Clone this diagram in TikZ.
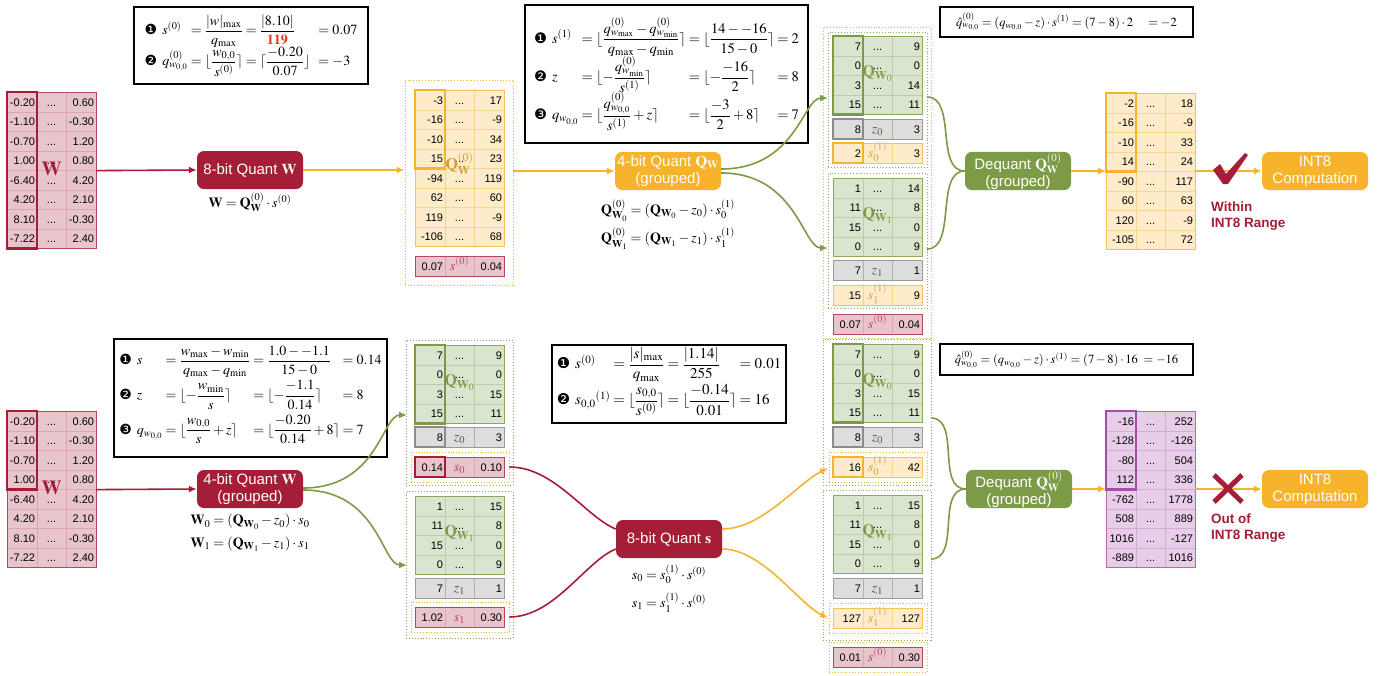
\documentclass[tikz,border=0pt]{standalone}
\usepackage{amsmath}
\usepackage{mathptmx}
\usepackage[no-math]{fontspec}
\setmainfont{Liberation Sans}
\newfontfamily\dingfont{DejaVu Sans}
\usepackage{tikz}
\usetikzlibrary{arrows.meta,positioning}
\definecolor{qred}{HTML}{A51D36}
\definecolor{qorange}{HTML}{F7B32B}
\definecolor{qgreen}{HTML}{7D9A47}
\definecolor{qpurple}{HTML}{A44DAA}
\definecolor{hot}{HTML}{E8301C}
\definecolor{pkfill}{HTML}{E8C5CD}
\definecolor{pkgrid}{HTML}{D9A7B3}
\definecolor{pkline}{HTML}{B4485F}
\definecolor{orfill}{HTML}{FDEBC9}
\definecolor{orgrid}{HTML}{F8D58E}
\definecolor{orline}{HTML}{F5C25A}
\definecolor{grfill}{HTML}{DAE5CF}
\definecolor{grgrid}{HTML}{BACDA6}
\definecolor{grline}{HTML}{8CA85F}
\definecolor{gyfill}{HTML}{DDDDDD}
\definecolor{gygrid}{HTML}{B0B0B0}
\definecolor{gyline}{HTML}{999999}
\definecolor{gyhl}{HTML}{8C8C8C}
\definecolor{pufill}{HTML}{E8CDE8}
\definecolor{pugrid}{HTML}{D6AAD6}
\definecolor{puline}{HTML}{B06AB6}
\definecolor{slab}{HTML}{C43B5C}
\definecolor{olab}{HTML}{D6A23A}
\definecolor{zlab}{HTML}{555555}
\definecolor{qlab}{HTML}{CF9C33}
\tikzset{every picture/.append style={x=1pt,y=-1pt}}
\tikzset{cell/.style={anchor=north west,minimum width=29.5pt,minimum height=19.5pt,inner sep=0pt,text width=26pt,text height=8pt,text depth=0pt,align=right,font=\fontsize{11}{11}\selectfont,line width=0.6pt}}
\tikzset{pkcell/.style={fill=pkfill,draw=pkgrid},pkedge/.style={draw=pkline,line width=0.8pt}}
\tikzset{orcell/.style={fill=orfill,draw=orgrid},oredge/.style={draw=orline,line width=0.8pt}}
\tikzset{grcell/.style={fill=grfill,draw=grgrid},gredge/.style={draw=grline,line width=0.8pt}}
\tikzset{gycell/.style={fill=gyfill,draw=gygrid},gyedge/.style={draw=gyline,line width=0.8pt}}
\tikzset{pucell/.style={fill=pufill,draw=pugrid},puedge/.style={draw=puline,line width=0.8pt}}
\tikzset{hl/.style={line width=2.6pt}}
\tikzset{obox/.style={draw=qorange,dotted,line width=0.9pt,inner sep=0pt}}
\tikzset{gbox/.style={draw=grline,dotted,line width=0.9pt,inner sep=0pt}}
\tikzset{proc/.style={rounded corners=7pt,minimum width=106pt,minimum height=38pt,text=white,align=center,font=\fontsize{15}{17}\selectfont,inner sep=1pt}}
\tikzset{redproc/.style={proc,fill=qred},orproc/.style={proc,fill=qorange},grproc/.style={proc,fill=qgreen}}
\tikzset{fbox/.style={draw,line width=1.4pt,inner sep=2pt,font=\fontsize{14}{16}\selectfont}}
\tikzset{lbl/.style={font=\fontsize{14}{16}\selectfont,inner sep=2pt}}
\tikzset{biglab/.style={font=\fontsize{20}{20}\selectfont,inner sep=0pt}}
\tikzset{glabel/.style={font=\fontsize{16}{16}\selectfont,inner sep=0pt,text=qgreen}}
\tikzset{rangetxt/.style={font=\fontsize{13.5}{16}\selectfont\bfseries,text=qred,align=left,inner sep=0pt}}
\tikzset{arr/.style={line width=1.6pt,-{Latex[length=8pt,width=7pt]}}}
\tikzset{rarr/.style={arr,qred},oarr/.style={arr,qorange},garr/.style={arr,qgreen}}
\tikzset{rlink/.style={line width=1.6pt,qred},glink/.style={line width=1.6pt,qgreen}}
\newcommand{\one}{{\dingfont\char"2776}}
\newcommand{\two}{{\dingfont\char"2777}}
\newcommand{\three}{{\dingfont\char"2778}}
\newcommand{\rowgap}{\rule[-16pt]{0pt}{34pt}}
\newcommand{\cellmath}[2]{\fontsize{14}{14}\selectfont\color{#1}$#2$}
% name, x, y, colour key, rows, values
\newcommand{\gridmat}[6]{%
  \foreach \vl/\vr [count=\i] in {#6}{%
    \node (#1-\i-1) at ({#2},{#3+(\i-1)*19.5})[cell,#4cell]{\vl};
    \node (#1-\i-2) at ({#2+29.5},{#3+(\i-1)*19.5})[cell,#4cell,align=center]{...};
    \node (#1-\i-3) at ({#2+59},{#3+(\i-1)*19.5})[cell,#4cell]{\vr};
  }
  \draw[#4edge] (#1-1-1.north west) rectangle (#1-#5-3.south east);
}
% name, x, y, colour key, left, middle, right
\newcommand{\vrow}[7]{%
  \node (#1-1) at (#2,#3)[cell,#4cell]{#5};
  \node (#1-2) at ({#2+29.5},#3)[cell,#4cell,align=center]{#6};
  \node (#1-3) at ({#2+59},#3)[cell,#4cell]{#7};
  \draw[#4edge] (#1-1.north west) rectangle (#1-3.south east);
}

\begin{document}
\begin{tikzpicture}
\useasboundingbox (0,0) rectangle (1387,675);

% dotted groups
\node (gq) at (459,182.5)[obox,minimum width=108pt,minimum height=205pt]{};
\node (go) at (877,182.5)[obox,minimum width=108pt,minimum height=311pt]{};
\node (ga) at (877.5,99.5)[gbox,minimum width=99pt,minimum height=135pt]{};
\node (gb) at (877.5,240.5)[gbox,minimum width=99pt,minimum height=135pt]{};
\node (gc) at (459.5,412.5)[gbox,minimum width=107pt,minimum height=145pt]{};
\node (gd) at (459.5,564.5)[gbox,minimum width=107pt,minimum height=147pt]{};
\node (oc) at (460,467)[obox,minimum width=98pt,minimum height=30pt]{};
\node (od) at (460,617)[obox,minimum width=98pt,minimum height=30pt]{};
\node (ge) at (877,412)[gbox,minimum width=108pt,minimum height=146pt]{};
\node (gf) at (877,565)[gbox,minimum width=108pt,minimum height=150pt]{};
\node (oe) at (878,467)[obox,minimum width=98pt,minimum height=30pt]{};
\node (of) at (878,618)[obox,minimum width=98pt,minimum height=30pt]{};
\node (og) at (878,657)[obox,minimum width=98pt,minimum height=30pt]{};

% top row
\gridmat{wt}{7}{92}{pk}{8}{-0.20/0.60,-1.10/-0.30,-0.70/1.20,1.00/0.80,-6.40/4.20,4.20/2.10,8.10/-0.30,-7.22/2.40}
\draw[hl,draw=qred] (wt-1-1.north west) rectangle (wt-8-1.south east);
\node (wtlab) at ([yshift=2pt]wt-4-2.south)[biglab,text=qred]{$\mathbf{W}$};

\gridmat{qt}{415}{90}{or}{8}{-3/17,-16/-9,-10/34,15/23,-94/119,62/60,119/-9,-106/68}
\draw[hl,draw=qorange] (qt-1-1.north west) rectangle (qt-4-1.south east);
\node (qtlab) at ([yshift=5pt]qt-4-2.south)[biglab,font=\fontsize{16}{16}\selectfont,text=qlab]{$\mathbf{Q}^{(0)}_{\mathbf{W}}$};
\vrow{st}{415}{256}{pk}{0.07}{\cellmath{slab}{s^{(0)}}}{0.04}

\gridmat{qa}{833}{36}{gr}{4}{7/9,0/0,3/14,15/11}
\draw[hl,draw=qgreen] (qa-1-1.north west) rectangle (qa-4-1.south east);
\node (qalab) at ([yshift=2pt]qa-2-2.south)[glabel]{$\mathbf{Q}_{\mathbf{W}_0}$};
\vrow{za}{833}{119}{gy}{8}{\cellmath{zlab}{z_0}}{3}
\draw[hl,draw=gyhl] (za-1.north west) rectangle (za-1.south east);
\vrow{sa}{833}{143}{or}{2}{\cellmath{olab}{s^{(1)}_0}}{3}
\draw[hl,draw=qorange] (sa-1.north west) rectangle (sa-1.south east);
\gridmat{qb}{833}{178}{gr}{4}{1/14,11/8,15/0,0/9}
\node (qblab) at ([yshift=2pt]qb-2-2.south)[glabel]{$\mathbf{Q}_{\mathbf{W}_1}$};
\vrow{zb}{833}{260}{gy}{7}{\cellmath{zlab}{z_1}}{1}
\vrow{sb}{833}{285}{or}{15}{\cellmath{olab}{s^{(1)}_1}}{9}
\vrow{sc}{833}{314}{pk}{0.07}{\cellmath{slab}{s^{(0)}}}{0.04}

\gridmat{rt}{1106}{93}{or}{8}{-2/18,-16/-9,-10/33,14/24,-90/117,60/63,120/-9,-105/72}
\draw[hl,draw=qorange] (rt-1-1.north west) rectangle (rt-4-1.south east);

% bottom row
\gridmat{wb}{7}{411}{pk}{8}{-0.20/0.60,-1.10/-0.30,-0.70/1.20,1.00/0.80,-6.40/4.20,4.20/2.10,8.10/-0.30,-7.22/2.40}
\draw[hl,draw=qred] (wb-1-1.north west) rectangle (wb-4-1.south east);
\node (wblab) at ([yshift=2pt]wb-4-2.south)[biglab,text=qred]{$\mathbf{W}$};

\gridmat{qc}{415}{345}{gr}{4}{7/9,0/0,3/15,15/11}
\draw[hl,draw=qgreen] (qc-1-1.north west) rectangle (qc-4-1.south east);
\node (qclab) at ([yshift=2pt]qc-2-2.south)[glabel]{$\mathbf{Q}_{\mathbf{W}_0}$};
\vrow{zc}{415}{427}{gy}{8}{\cellmath{zlab}{z_0}}{3}
\draw[hl,draw=gyhl] (zc-1.north west) rectangle (zc-1.south east);
\vrow{sd}{415}{457}{pk}{0.14}{\cellmath{slab}{s_0}}{0.10}
\draw[hl,draw=qred] (sd-1.north west) rectangle (sd-1.south east);
\gridmat{qd}{415}{496}{gr}{4}{1/15,11/8,15/0,0/9}
\node (qdlab) at ([yshift=2pt]qd-2-2.south)[glabel]{$\mathbf{Q}_{\mathbf{W}_1}$};
\vrow{zd}{415}{578}{gy}{7}{\cellmath{zlab}{z_1}}{1}
\vrow{se}{415}{607}{pk}{1.02}{\cellmath{slab}{s_1}}{0.30}

\gridmat{qe}{833}{344}{gr}{4}{7/9,0/0,3/15,15/11}
\draw[hl,draw=qgreen] (qe-1-1.north west) rectangle (qe-4-1.south east);
\node (qelab) at ([yshift=2pt]qe-2-2.south)[glabel]{$\mathbf{Q}_{\mathbf{W}_0}$};
\vrow{ze}{833}{427}{gy}{8}{\cellmath{zlab}{z_0}}{3}
\draw[hl,draw=gyhl] (ze-1.north west) rectangle (ze-1.south east);
\vrow{sf}{833}{457}{or}{16}{\cellmath{olab}{s^{(1)}_0}}{42}
\draw[hl,draw=qorange] (sf-1.north west) rectangle (sf-1.south east);
\gridmat{qf}{833}{495}{gr}{4}{1/15,11/8,15/0,0/9}
\node (qflab) at ([yshift=2pt]qf-2-2.south)[glabel]{$\mathbf{Q}_{\mathbf{W}_1}$};
\vrow{zf}{833}{578}{gy}{7}{\cellmath{zlab}{z_1}}{1}
\vrow{sg}{833}{608}{or}{127}{\cellmath{olab}{s^{(1)}_1}}{127}
\vrow{sh}{833}{647}{pk}{0.01}{\cellmath{slab}{s^{(0)}}}{0.30}

\gridmat{rb}{1106}{411}{pu}{8}{-16/252,-128/-126,-80/504,112/336,-762/1778,508/889,1016/-127,-889/1016}
\draw[hl,draw=qpurple] (rb-1-1.north west) rectangle (rb-4-1.south east);

% process nodes
\node (qw8) at (250,170)[redproc]{8-bit Quant $\mathbf{W}$};
\node (qw4t) at (668,171)[orproc]{4-bit Quant $\mathbf{Q}_{\mathbf{W}}$\\(grouped)};
\node (dq1) at (1018,171)[grproc]{Dequant $\mathbf{Q}^{(0)}_{\mathbf{W}}$\\(grouped)};
\node (int1) at (1315,171)[orproc]{INT8\\Computation};
\node (qw4b) at (250,489)[redproc]{4-bit Quant $\mathbf{W}$\\(grouped)};
\node (qs8) at (669,539)[redproc]{8-bit Quant $\mathbf{s}$};
\node (dq2) at (1019,489)[grproc]{Dequant $\mathbf{Q}^{(0)}_{\mathbf{W}}$\\(grouped)};
\node (int2) at (1315,489)[orproc]{INT8\\Computation};

\node (lw) [below=1pt of qw8,lbl]{$\mathbf{W}=\mathbf{Q}^{(0)}_{\mathbf{W}}\cdot s^{(0)}$};
\node (lq0) [below=7pt of qw4t,lbl]{$\mathbf{Q}^{(0)}_{\mathbf{W}_0}=(\mathbf{Q}_{\mathbf{W}_0}-z_0)\cdot s^{(1)}_0$};
\node (lq1) [below=2pt of lq0,lbl]{$\mathbf{Q}^{(0)}_{\mathbf{W}_1}=(\mathbf{Q}_{\mathbf{W}_1}-z_1)\cdot s^{(1)}_1$};
\node (lw0) [below=4pt of qw4b,lbl]{$\mathbf{W}_0=(\mathbf{Q}_{\mathbf{W}_0}-z_0)\cdot s_0$};
\node (lw1) [below=3pt of lw0,lbl]{$\mathbf{W}_1=(\mathbf{Q}_{\mathbf{W}_1}-z_1)\cdot s_1$};
\node (ls0) [below=4pt of qs8,lbl]{$s_0=s^{(1)}_0\cdot s^{(0)}$};
\node (ls1) [below=4pt of ls0,lbl]{$s_1=s^{(1)}_1\cdot s^{(0)}$};

% formula boxes
\node (f1) at (251,45.5)[fbox,minimum width=234pt,minimum height=77pt]{%
\begin{tabular}{@{}l@{\hspace{5pt}}l@{\hspace{3pt}}l@{\hspace{3pt}}l@{\hspace{8pt}}l@{}}
\one & $s^{(0)}$ & $=\dfrac{|w|_{\max}}{q_{\max}}$ & $=\dfrac{|8.10|}{\textcolor{hot}{\mathbf{119}}}$ & $=0.07$\\[3pt]
\two & $q^{(0)}_{w_{0,0}}$ & $=\lfloor\dfrac{w_{0,0}}{s^{(0)}}\rceil$ & $=\lceil\dfrac{-0.20}{0.07}\rfloor$ & $=-3$
\end{tabular}};
\node (f2) at (666.5,74)[fbox,minimum width=283pt,minimum height=138pt,font=\fontsize{14.5}{16}\selectfont]{%
\begin{tabular}{@{}l@{\hspace{5pt}}l@{\hspace{3pt}}l@{\hspace{3pt}}l@{\hspace{3pt}}l@{}}
\one & $s^{(1)}$ & $=\lfloor\dfrac{q^{(0)}_{w_{\max}}-q^{(0)}_{w_{\min}}}{q_{\max}-q_{\min}}\rceil$ & $=\lfloor\dfrac{14--16}{15-0}\rceil$ & $=2$\\[4pt]
\two & $z$ & $=\lfloor-\dfrac{q^{(0)}_{w_{\min}}}{s^{(1)}}\rceil$ & $=\lfloor-\dfrac{-16}{2}\rceil$ & $=8$\\[4pt]
\three & $q_{w_{0,0}}$ & $=\lfloor\dfrac{q^{(0)}_{w_{0,0}}}{s^{(1)}}+z\rceil$ & $=\lfloor\dfrac{-3}{2}+8\rceil$ & $=7$
\end{tabular}};
\node (f3) at (250.5,398)[fbox,minimum width=273pt,minimum height=118pt]{%
\begin{tabular}{@{}l@{\hspace{5pt}}l@{\hspace{3pt}}l@{\hspace{3pt}}l@{\hspace{3pt}}l@{}}
\one\rowgap & $s$ & $=\dfrac{w_{\max}-w_{\min}}{q_{\max}-q_{\min}}$ & $=\dfrac{1.0--1.1}{15-0}$ & $=0.14$\\
\two\rowgap & $z$ & $=\lfloor-\dfrac{w_{\min}}{s}\rceil$ & $=\lfloor-\dfrac{-1.1}{0.14}\rceil$ & $=8$\\
\three\rowgap & $q_{w_{0,0}}$ & $=\lfloor\dfrac{w_{0,0}}{s}+z\rceil$ & $=\lfloor\dfrac{-0.20}{0.14}+8\rceil$ & $=7$
\end{tabular}};
\node (f4) at (669,384)[fbox,minimum width=234pt,minimum height=78pt,font=\fontsize{15}{17}\selectfont]{%
\begin{tabular}{@{}l@{\hspace{5pt}}l@{\hspace{3pt}}l@{\hspace{3pt}}l@{\hspace{3pt}}l@{}}
\one\rowgap & $s^{(0)}$ & $=\dfrac{|s|_{\max}}{q_{\max}}$ & $=\dfrac{|1.14|}{255}$ & $=0.01$\\
\two\rowgap & $s_{0,0}{}^{(1)}$ & $=\lfloor\dfrac{s_{0,0}}{s^{(0)}}\rceil$ & $=\lfloor\dfrac{-0.14}{0.01}\rceil$ & $=16$
\end{tabular}};
\node (f5) at (1066.5,22)[fbox,minimum width=253pt,minimum height=30pt,font=\fontsize{12.5}{14}\selectfont]{$\hat{q}^{(0)}_{w_{0,0}}=(q_{w_{0,0}}-z)\cdot s^{(1)}=(7-8)\cdot 2\quad=-2$};
\node (f6) at (1066.5,359.5)[fbox,minimum width=253pt,minimum height=31pt,font=\fontsize{12.5}{14}\selectfont]{$\hat{q}^{(0)}_{w_{0,0}}=(q_{w_{0,0}}-z)\cdot s^{(1)}=(7-8)\cdot 16\;=-16$};

% straight arrows
\draw[rarr] (wt-4-3.south east) -- (qw8.west);
\draw[oarr] (qw8.east) -- (qw8.east -| gq.west);
\draw[oarr] (qw4t.west -| gq.east) -- (qw4t.west);
\draw[oarr] (dq1.east) -- (dq1.east -| rt-1-1.west);
\draw[oarr] (int1.west -| rt-1-3.east) -- (int1.west);
\draw[rarr] (wb-4-3.south east) -- (qw4b.west);
\draw[oarr] (dq2.east) -- (dq2.east -| rb-1-1.west);
\draw[oarr] (int2.west -| rb-1-3.east) -- (int2.west);

% curved connectors
\coordinate (tA) at (828,98);
\coordinate (tB) at (828,248);
\coordinate (tC) at (927,97);
\coordinate (tD) at (927,249);
\draw[garr] ([yshift=2pt]qw4t.east) .. controls +(75,0) and +(-25,0) .. (tA);
\draw[garr] ([yshift=-2pt]qw4t.east) .. controls +(75,0) and +(-25,0) .. (tB);
\draw[glink] (tC) .. controls +(30,0) and +(-30,0) .. (dq1.west);
\draw[glink] (tD) .. controls +(30,0) and +(-30,0) .. (dq1.west);

\coordinate (bA) at (407,415);
\coordinate (bB) at (407,565);
\draw[garr] ([yshift=1pt]qw4b.east) .. controls +(75,0) and +(-25,0) .. (bA);
\draw[garr] ([yshift=-1pt]qw4b.east) .. controls +(75,0) and +(-25,0) .. (bB);
\draw[rlink] (oc.east) .. controls +(45,0) and +(-30,-12) .. ([yshift=10pt]qs8.west);
\draw[rlink] (od.east) .. controls +(45,0) and +(-30,12) .. ([yshift=-10pt]qs8.west);

\coordinate (bC) at (828,468);
\coordinate (bD) at (828,618);
\coordinate (bE) at (931,418);
\coordinate (bF) at (931,559);
\draw[oarr] ([yshift=10pt]qs8.east) .. controls +(40,0) and +(-30,15) .. (bC);
\draw[oarr] ([yshift=-10pt]qs8.east) .. controls +(40,0) and +(-30,-15) .. (bD);
\draw[glink] (bE) .. controls +(30,0) and +(-30,0) .. (dq2.west);
\draw[glink] (bF) .. controls +(30,0) and +(-30,0) .. (dq2.west);

% check and cross
\fill[qred] (1213,170) -- (1220,164) -- (1226,174) -- (1245,153) -- (1248,155) -- (1228,184) -- (1223,184) -- cycle;
\draw[qred,line width=5pt] (1214,475) -- (1242,502) (1242,475) -- (1214,502);
\node (ok) at (1211,216)[anchor=west,rangetxt]{Within\\INT8 Range};
\node (bad) at (1211,528)[anchor=west,rangetxt]{Out of\\INT8 Range};
\end{tikzpicture}
\end{document}
